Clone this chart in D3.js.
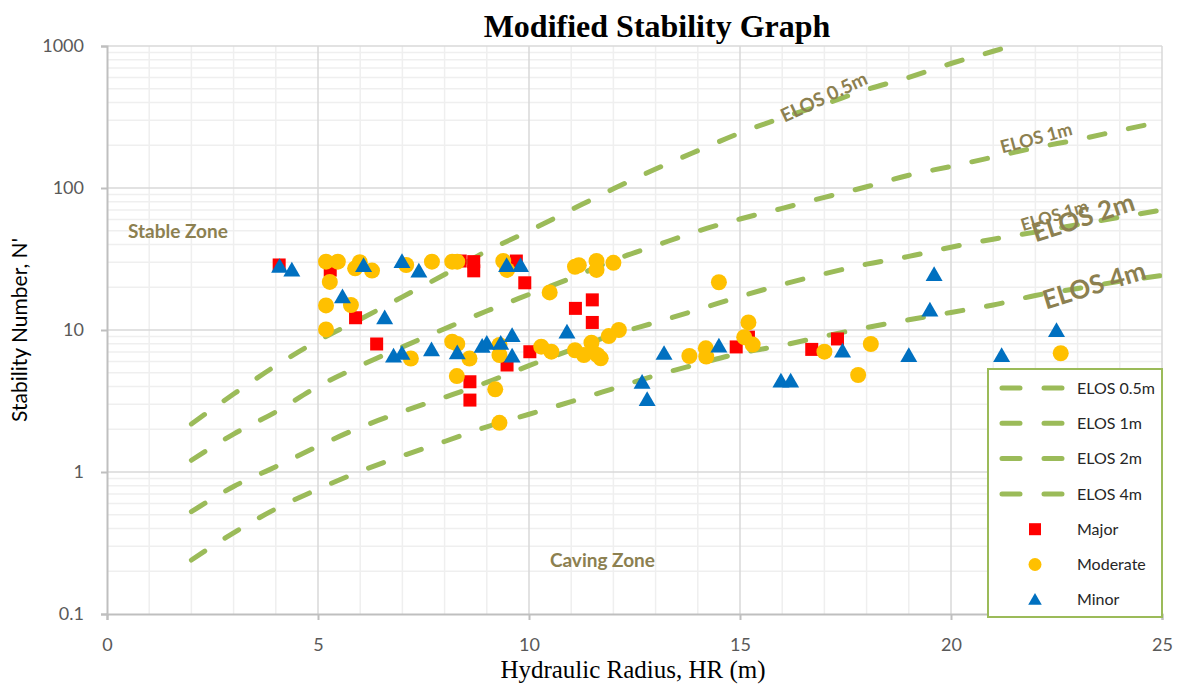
<!DOCTYPE html>
<html>
<head>
<meta charset="utf-8">
<script src="https://cdn.jsdelivr.net/npm/d3@7"></script>
<style>
  body { margin: 0; background: #fff; }
  svg { display: block; }
</style>
</head>
<body>
<div id="chart"></div>
<script>
// ELOS design lines at whole HR values
const elosHR = [2, 3, 4, 5, 6, 7, 8, 9, 10, 11, 12, 13, 14, 15, 16, 17, 18, 19, 20, 21, 22, 23, 24, 25];
const elos05 = [2.18, 3.54, 5.6, 8.4, 11.9, 17.1, 24.6, 36, 49.8, 70.2, 98.6, 136, 183, 244, 312, 390, 493, 601, 753, 918, 1120];
const elos1 = [1.21, 1.85, 2.65, 4.0, 5.6, 7.6, 10.2, 13.6, 17.8, 23.2, 31.0, 39.3, 49.7, 60.5, 71.9, 85.9, 102, 123, 142, 165, 192, 219, 254, 294];
const elos2 = [0.525, 0.79, 1.09, 1.52, 2.06, 2.66, 3.36, 4.28, 5.61, 7.24, 9.27, 11.3, 13.9, 17.2, 20.9, 24.9, 29.1, 33.0, 38.3, 43.6, 48.9, 55.2, 62.2, 70.1];
const elos4 = [0.24, 0.373, 0.55, 0.757, 1.01, 1.30, 1.64, 2.08, 2.55, 3.13, 3.87, 4.79, 5.75, 6.87, 7.8, 9.06, 10.4, 11.8, 13.3, 15.0, 17.5, 19.6, 22, 24.2];
const elosNames = ["ELOS 0.5m", "ELOS 1m", "ELOS 2m", "ELOS 4m"];

// case histories
const majorHR = [4.08, 5.29, 5.89, 6.39, 8.37, 8.69, 8.69, 9.70, 9.90, 8.60, 8.60, 9.48, 10.02, 11.10, 11.50, 11.50, 14.91, 15.20, 16.70, 17.31];
const majorN = [28.7, 26.4, 12.2, 7.97, 30.6, 30.3, 26.1, 30.6, 21.5, 4.32, 3.21, 5.67, 7.03, 14.2, 16.3, 11.3, 7.6, 8.9, 7.3, 8.65];

const moderateHR = [5.19, 5.47, 5.28, 5.19, 5.78, 5.19, 5.88, 5.99, 6.28, 7.09, 7.70, 7.20, 8.18, 8.30, 8.18, 8.30, 8.59, 8.29,
  9.20, 9.30, 9.30, 9.30, 9.39, 9.48, 10.29, 10.53, 10.49, 11.09, 11.18, 11.60, 11.60, 12.00, 11.09, 11.30, 11.48, 11.50,
  11.62, 11.70, 11.89, 12.13, 13.80, 14.19, 14.20, 14.50, 15.10, 15.20, 15.30, 17.00, 17.80, 18.10, 22.60];
const moderateN = [30.3, 30.3, 21.8, 14.9, 15.0, 10.1, 27.2, 30.0, 26.2, 28.7, 30.3, 6.3, 30.3, 30.3, 8.27, 7.98, 6.3, 4.74,
  3.82, 2.22, 6.67, 7.85, 30.6, 26.5, 7.63, 7.04, 18.4, 27.9, 28.6, 30.6, 26.5, 29.7, 7.2, 6.67, 8.14, 7.04,
  6.67, 6.32, 9.06, 10.0, 6.56, 7.43, 6.5, 21.7, 8.9, 11.3, 7.9, 7.04, 4.82, 7.97, 6.86];

const minorHR = [4.09, 4.38, 5.58, 6.08, 6.58, 6.79, 6.99, 6.99, 7.39, 7.69, 8.30, 8.89, 9.00, 9.33, 9.47, 9.80, 9.60, 9.60,
  10.90, 13.20, 12.68, 12.80, 14.50, 15.97, 16.20, 17.43, 19.00, 19.50, 19.60, 21.20, 22.50];
const minorN = [27.8, 26.2, 17.0, 28.2, 12.1, 6.5, 6.78, 30.1, 25.8, 7.2, 6.85, 7.6, 8.0, 8.0, 28.2, 28.2, 9.07, 6.5,
  9.59, 6.78, 4.25, 3.21, 7.63, 4.33, 4.33, 7.04, 6.56, 13.7, 24.4, 6.56, 9.84];

const xTicks = [0, 5, 10, 15, 20, 25];
const yTicks = [0.1, 1, 10, 100, 1000];

const width = 1182, height = 687;
const margin = { top: 46, right: 20, bottom: 73, left: 107 };
const innerW = 1162 - margin.left;
const innerH = 614 - margin.top;

const lineColor = "#9BBB59";
const labelColor = "#8C8050";
const sans = "Lato, 'Open Sans', sans-serif";
const serif = "'Liberation Serif', 'Times New Roman', serif";

const svg = d3.select("#chart").append("svg")
  .attr("width", width)
  .attr("height", height);

const g = svg.append("g")
  .attr("transform", `translate(${margin.left},${margin.top})`);

const x = d3.scaleLinear().domain([0, 25]).range([0, innerW]);
const y = d3.scaleLog().domain([0.1, 1000]).range([innerH, 0]);

// grid
const minorX = d3.range(0, 26).filter(d => d % 5 !== 0);
const minorY = [];
[0.1, 1, 10, 100].forEach(dec => { for (let k = 2; k <= 9; k++) minorY.push(dec * k); });

g.append("g").selectAll("line").data(minorX).join("line")
  .attr("x1", d => x(d)).attr("x2", d => x(d))
  .attr("y1", 0).attr("y2", innerH)
  .attr("stroke", "#EFEFEF").attr("stroke-width", 1.5);
g.append("g").selectAll("line").data(minorY).join("line")
  .attr("x1", 0).attr("x2", innerW)
  .attr("y1", d => y(d)).attr("y2", d => y(d))
  .attr("stroke", "#EFEFEF").attr("stroke-width", 1.5);
g.append("g").selectAll("line").data(xTicks.slice(1)).join("line")
  .attr("x1", d => x(d)).attr("x2", d => x(d))
  .attr("y1", 0).attr("y2", innerH)
  .attr("stroke", "#D9D9D9").attr("stroke-width", 1.5);
g.append("g").selectAll("line").data(yTicks.slice(1)).join("line")
  .attr("x1", 0).attr("x2", innerW)
  .attr("y1", d => y(d)).attr("y2", d => y(d))
  .attr("stroke", "#D9D9D9").attr("stroke-width", 1.5);

// axes
const xAxis = g.append("g")
  .attr("transform", `translate(0,${innerH})`)
  .call(d3.axisBottom(x).tickValues(xTicks).tickSize(6).tickPadding(18));
const yAxis = g.append("g")
  .call(d3.axisLeft(y).tickValues(yTicks).tickFormat(d3.format("~g")).tickSize(6).tickPadding(17));

[xAxis, yAxis].forEach(ax => {
  ax.select(".domain").attr("stroke", "#BFBFBF").attr("stroke-width", 2);
  ax.selectAll(".tick line").attr("stroke", "#BFBFBF").attr("stroke-width", 2);
  ax.selectAll(".tick text")
    .attr("fill", "#595959")
    .style("font-family", sans)
    .style("font-size", "18px");
});

// ELOS lines
g.append("clipPath").attr("id", "plot-clip")
  .append("rect").attr("width", innerW).attr("height", innerH);

const line = d3.line()
  .x(d => x(d[0]))
  .y(d => y(d[1]))
  .curve(d3.curveMonotoneX);

const elosSeries = [elos05, elos1, elos2, elos4].map(vals => vals.map((v, i) => [elosHR[i], v]));

g.append("g").attr("clip-path", "url(#plot-clip)")
  .selectAll("path").data(elosSeries).join("path")
  .attr("d", line)
  .attr("fill", "none")
  .attr("stroke", lineColor)
  .attr("stroke-width", 5)
  .attr("stroke-linecap", "round")
  .attr("stroke-dasharray", "16,24");

// line labels
const lineLabels = [
  { text: "ELOS 0.5m", hr: 16.99, n: 437, size: 19, rot: -25 },
  { text: "ELOS 1m", hr: 22.02, n: 225, size: 18, rot: -15 },
  { text: "ELOS 1m", hr: 22.45, n: 64, size: 17, rot: -17 },
  { text: "ELOS 2m", hr: 23.13, n: 62, size: 26, rot: -18 },
  { text: "ELOS 4m", hr: 23.39, n: 20.7, size: 26, rot: -17 }
];
g.append("g").selectAll("text").data(lineLabels).join("text")
  .attr("transform", d => `translate(${x(d.hr)},${y(d.n)}) rotate(${d.rot})`)
  .attr("text-anchor", "middle")
  .attr("dy", "0.35em")
  .attr("fill", labelColor)
  .style("font-family", sans)
  .style("font-weight", "bold")
  .style("font-size", d => d.size + "px")
  .text(d => d.text);

// zone labels
g.append("text")
  .attr("x", x(1.68)).attr("y", y(49.8))
  .attr("text-anchor", "middle").attr("dy", "0.35em")
  .attr("fill", labelColor)
  .style("font-family", sans).style("font-weight", "bold").style("font-size", "19px")
  .text("Stable Zone");
g.append("text")
  .attr("x", x(11.74)).attr("y", y(0.24))
  .attr("text-anchor", "middle").attr("dy", "0.35em")
  .attr("fill", labelColor)
  .style("font-family", sans).style("font-weight", "bold").style("font-size", "19px")
  .text("Caving Zone");

// points
const toPts = (hr, n) => hr.map((h, i) => [h, n[i]]);

g.append("g").selectAll("rect").data(toPts(majorHR, majorN)).join("rect")
  .attr("x", d => x(d[0]) - 6.5)
  .attr("y", d => y(d[1]) - 6.5)
  .attr("width", 13).attr("height", 13)
  .attr("fill", "#FF0000");

g.append("g").selectAll("circle").data(toPts(moderateHR, moderateN)).join("circle")
  .attr("cx", d => x(d[0]))
  .attr("cy", d => y(d[1]))
  .attr("r", 8)
  .attr("fill", "#FFC000");

const tri = d3.symbol().type(d3.symbolTriangle).size(125);
g.append("g").selectAll("path").data(toPts(minorHR, minorN)).join("path")
  .attr("transform", d => `translate(${x(d[0])},${y(d[1]) + 1})`)
  .attr("d", tri)
  .attr("fill", "#0070C0");

// titles
svg.append("text")
  .attr("x", 657).attr("y", 37)
  .attr("text-anchor", "middle")
  .style("font-family", serif).style("font-weight", "bold").style("font-size", "32px")
  .text("Modified Stability Graph");

svg.append("text")
  .attr("x", 633).attr("y", 678)
  .attr("text-anchor", "middle")
  .style("font-family", serif).style("font-size", "25px")
  .text("Hydraulic Radius, HR (m)");

svg.append("text")
  .attr("transform", `translate(27,${margin.top + innerH / 2}) rotate(-90)`)
  .attr("text-anchor", "middle")
  .style("font-family", sans).style("font-size", "21px")
  .text("Stability Number, N'");

// legend
const legend = svg.append("g").attr("transform", "translate(988,369)");
legend.append("rect")
  .attr("width", 174).attr("height", 248)
  .attr("fill", "#fff")
  .attr("stroke", lineColor).attr("stroke-width", 2);

const legendItems = elosNames.map(n => ({ label: n, kind: "line" }))
  .concat([
    { label: "Major", kind: "square" },
    { label: "Moderate", kind: "circle" },
    { label: "Minor", kind: "triangle" }
  ]);

const item = legend.selectAll("g.item").data(legendItems).join("g")
  .attr("class", "item")
  .attr("transform", (d, i) => `translate(0,${19 + i * 35.3})`);

item.filter(d => d.kind === "line").append("line")
  .attr("x1", 14).attr("x2", 78)
  .attr("stroke", lineColor).attr("stroke-width", 5)
  .attr("stroke-linecap", "round")
  .attr("stroke-dasharray", "18,24");
item.filter(d => d.kind === "square").append("rect")
  .attr("x", 41).attr("y", -6).attr("width", 12).attr("height", 12)
  .attr("fill", "#FF0000");
item.filter(d => d.kind === "circle").append("circle")
  .attr("cx", 47).attr("r", 6.5).attr("fill", "#FFC000");
item.filter(d => d.kind === "triangle").append("path")
  .attr("transform", "translate(47,1)")
  .attr("d", d3.symbol().type(d3.symbolTriangle).size(80))
  .attr("fill", "#0070C0");

item.append("text")
  .attr("x", 89).attr("dy", "0.35em")
  .attr("fill", "#262626")
  .style("font-family", sans).style("font-size", "16px")
  .text(d => d.label);
</script>
</body>
</html>
